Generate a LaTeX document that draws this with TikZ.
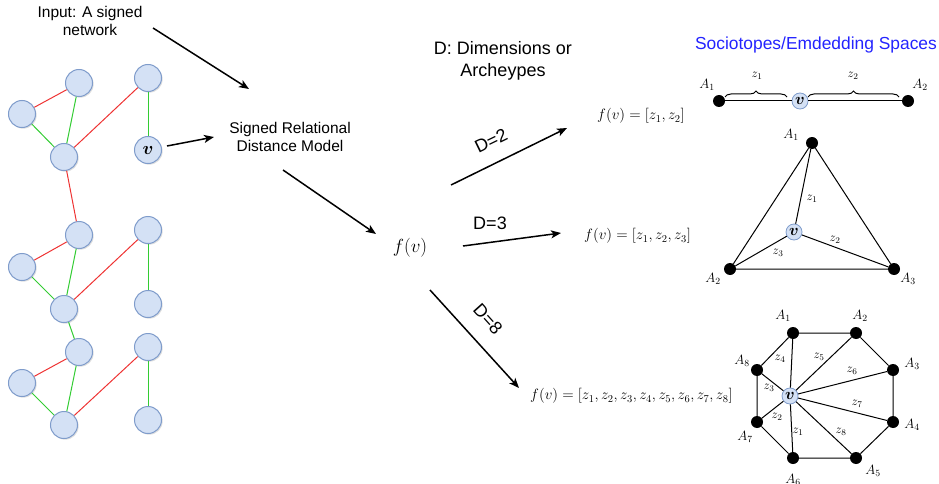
\RequirePackage{fix-cm}
\documentclass[tikz,border=0pt]{standalone}
\usepackage{amsmath,bm}
\usepackage{fontspec}
\setmainfont{Liberation Sans}
\usetikzlibrary{arrows.meta,decorations.pathreplacing,shadows}
\definecolor{nodefill}{HTML}{D4E1F5}
\definecolor{nodeline}{HTML}{7F9CCB}
\definecolor{sigred}{HTML}{EE3333}
\definecolor{siggreen}{HTML}{33CC33}
\definecolor{titleblue}{HTML}{2323FF}
\tikzset{
  net/.style={circle, draw=nodeline, fill=nodefill, line width=1pt, minimum size=27pt, inner sep=0pt,
    drop shadow={shadow xshift=1.2pt, shadow yshift=-1.2pt, opacity=0.25}},
  posedge/.style={siggreen, line width=1pt},
  negedge/.style={sigred, line width=1pt},
  arr/.style={-{Stealth[length=10pt,width=8pt,inset=2.5pt]}, line width=1.5pt},
  txt/.style={align=center, font=\fontsize{15.5}{18}\selectfont, inner sep=0pt},
  bigtxt/.style={align=center, font=\fontsize{18}{22}\selectfont, inner sep=0pt},
  mathtxt/.style={font=\fontsize{15}{18}\selectfont, inner sep=0pt, anchor=west},
  anc/.style={circle, fill=black, minimum size=12pt, inner sep=0pt},
  vsmall/.style={circle, draw=nodeline, fill=nodefill, line width=0.8pt, minimum size=16pt, inner sep=0pt, font=\fontsize{16}{18}\selectfont},
  alab/.style={font=\fontsize{13.5}{16}\selectfont, inner sep=0pt},
  zlab/.style={font=\fontsize{12.5}{15}\selectfont, inner sep=0pt},
  edge/.style={line width=1pt, black},
  brc/.style={decorate, decoration={brace, amplitude=6pt}, line width=1pt},
}
\begin{document}
\begin{tikzpicture}[x=1pt,y=-1pt]
\useasboundingbox (0,0) rectangle (939,484);

% ---------- network ----------
\foreach \n/\x/\y in {a1/79/83, a2/22/114, a3/64/157, a4/148/78,
                      b1/79/235, b2/22/267, b3/64/309, b4/148/230, b5/148/304,
                      c1/79/352, c2/22/383, c3/64/425, c4/148/347, c5/148/420}
  \node[net] (\n) at (\x,\y) {};
\node[net, font=\fontsize{18}{20}\selectfont] (vn) at (148,150) {$\bm{v}$};

\draw[negedge] (a1) -- (a2);
\draw[posedge] (a2) -- (a3);
\draw[posedge] (a1) -- (a3);
\draw[negedge] (a3) -- (a4);
\draw[posedge] (a4) -- (vn);
\draw[negedge] (a3) -- (b1);
\draw[negedge] (b1) -- (b2);
\draw[posedge] (b2) -- (b3);
\draw[posedge] (b1) -- (b3);
\draw[negedge] (b3) -- (b4);
\draw[posedge] (b4) -- (b5);
\draw[posedge] (b3) -- (c1);
\draw[negedge] (c1) -- (c2);
\draw[posedge] (c2) -- (c3);
\draw[posedge] (c1) -- (c3);
\draw[negedge] (c3) -- (c4);
\draw[posedge] (c4) -- (c5);

% ---------- texts ----------
\node[txt] (inp) at (90,21) {Input: A signed\\network};
\node[txt] (srdm) at (290,137) {Signed Relational\\Distance Model};
\node[bigtxt] (dim) at (503,61) {D: Dimensions or\\Archeypes};
\node[font=\fontsize{17.4}{20}\selectfont, text=titleblue, inner sep=0pt] (soc) at (816,45) {Sociotopes/Emdedding Spaces};
\node[font=\fontsize{19}{22}\selectfont, inner sep=0pt] (fv) at (410,248) {$f(v)$};
\node[mathtxt] (f2) at (597,116) {$f(v)=[z_1,z_2]$};
\node[mathtxt] (f3) at (584,236) {$f(v)=[z_1,z_2,z_3]$};
\node[mathtxt] (f8) at (530,396) {$f(v)=[z_1,z_2,z_3,z_4,z_5,z_6,z_7,z_8]$};

% ---------- arrows ----------
\coordinate (p1s) at (153,28);  \coordinate (p1e) at (249,89);
\coordinate (p2s) at (167,146); \coordinate (p2e) at (214,137);
\coordinate (p3s) at (283,170); \coordinate (p3e) at (376,234);
\coordinate (p4s) at (451,185); \coordinate (p4e) at (567,128);
\coordinate (p5s) at (463,246); \coordinate (p5e) at (561,233);
\coordinate (p6s) at (430,290); \coordinate (p6e) at (519,388);
\draw[arr] (p1s) -- (p1e);
\draw[arr] (p2s) -- (p2e);
\draw[arr] (p3s) -- (p3e);
\draw[arr] (p4s) -- (p4e);
\draw[arr] (p5s) -- (p5e);
\draw[arr] (p6s) -- (p6e);
\node[bigtxt, rotate=26] (d2) at (491,141) {D=2};
\node[bigtxt] (d3) at (490,223) {D=3};
\node[bigtxt, rotate=-48] (d8) at (488,319) {D=8};

% ---------- D=2 sociotope ----------
\node[anc] (l1) at (719,101) {};
\node[anc] (l2) at (908,101) {};
\node[vsmall] (lv) at (800,101) {$\bm{v}$};
\draw[edge] (l1) -- (lv);
\draw[edge] (lv) -- (l2);
\coordinate (br1s) at (725,97); \coordinate (br1e) at (787,97);
\coordinate (br2s) at (808,97); \coordinate (br2e) at (899,97);
\draw[brc] (br1s) -- (br1e);
\draw[brc] (br2s) -- (br2e);
\node[alab] (l1t) at (707,85) {$A_1$};
\node[alab] (l2t) at (920,85) {$A_2$};
\node[zlab] (lz1) at (757,76) {$z_1$};
\node[zlab] (lz2) at (853,76) {$z_2$};

% ---------- D=3 sociotope ----------
\node[anc] (t1) at (812,143) {};
\node[anc] (t2) at (730,269) {};
\node[anc] (t3) at (894,269) {};
\node[vsmall] (tv) at (794,232) {$\bm{v}$};
\draw[edge] (t1) -- (t2) -- (t3) -- (t1);
\draw[edge] (tv) -- (t1);
\draw[edge] (tv) -- (t2);
\draw[edge] (tv) -- (t3);
\node[alab] (t1t) at (791,135) {$A_1$};
\node[alab] (t2t) at (713,279) {$A_2$};
\node[alab] (t3t) at (908,279) {$A_3$};
\node[zlab] (tz1) at (812,199) {$z_1$};
\node[zlab] (tz2) at (835,240) {$z_2$};
\node[zlab] (tz3) at (778,253) {$z_3$};

% ---------- D=8 sociotope ----------
\foreach \n/\x/\y in {o1/793/333, o2/856/333, o3/893/370, o4/893/422,
                      o5/856/458, o6/793/458, o7/757/422, o8/757/370}
  \node[anc] (\n) at (\x,\y) {};
\node[vsmall] (ov) at (790,396) {$\bm{v}$};
\draw[edge] (o1) -- (o2) -- (o3) -- (o4) -- (o5) -- (o6) -- (o7) -- (o8) -- (o1);
\foreach \n in {o1,o2,o3,o4,o5,o6,o7,o8}
  \draw[edge] (ov) -- (\n);
\node[alab] (o1t) at (783,316) {$A_1$};
\node[alab] (o2t) at (860,316) {$A_2$};
\node[alab] (o3t) at (912,364) {$A_3$};
\node[alab] (o4t) at (912,425) {$A_4$};
\node[alab] (o5t) at (873,471) {$A_5$};
\node[alab] (o6t) at (793,480) {$A_6$};
\node[alab] (o7t) at (745,437) {$A_7$};
\node[alab] (o8t) at (742,361) {$A_8$};
\node[zlab] (oz4) at (780,359) {$z_4$};
\node[zlab] (oz5) at (819,357) {$z_5$};
\node[zlab] (oz6) at (852,371) {$z_6$};
\node[zlab] (oz7) at (857,404) {$z_7$};
\node[zlab] (oz8) at (841,432) {$z_8$};
\node[zlab] (oz1) at (798,432) {$z_1$};
\node[zlab] (oz2) at (777,417) {$z_2$};
\node[zlab] (oz3) at (769,388) {$z_3$};
\end{tikzpicture}
\end{document}
